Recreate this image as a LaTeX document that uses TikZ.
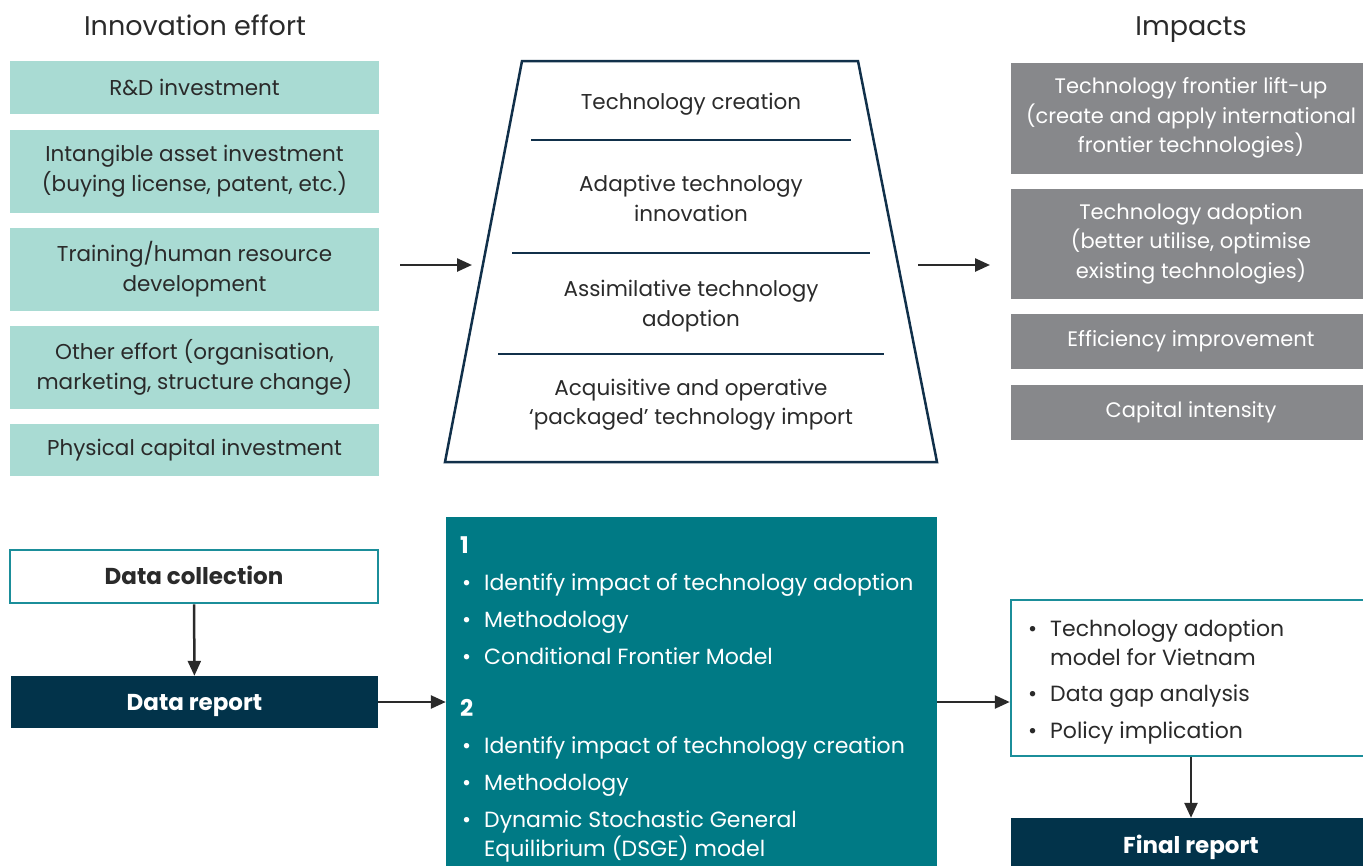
\documentclass[tikz,border=0pt]{standalone}
\usepackage{fontspec}
\setmainfont{Poppins}
\usetikzlibrary{arrows.meta,positioning}

\definecolor{effortgreen}{HTML}{A9DBD3}
\definecolor{impactgrey}{HTML}{87888B}
\definecolor{reportnavy}{HTML}{02334A}
\definecolor{methodteal}{HTML}{007A85}
\definecolor{rimteal}{HTML}{1B8E9A}
\definecolor{inkdark}{HTML}{2A2A2A}
\definecolor{stackline}{HTML}{11304A}

\newcommand\headfont{\fontsize{27}{32}\selectfont}
\newcommand\bodyfont{\fontsize{21.5}{29.5}\selectfont}
\newcommand\impactfont{\fontsize{21}{29.5}\selectfont}
\newcommand\itemfont{\fontsize{22}{29}\selectfont}
\newcommand\boldfont{\fontsize{23}{28}\selectfont\bfseries}
\newcommand\dotitem[1]{\makebox[22pt][l]{\textbullet}#1}

\tikzset{
    heading/.style={anchor=base, inner sep=0, font=\headfont, text=inkdark},
    effort/.style={fill=effortgreen, minimum width=369, inner sep=0, align=center, text=inkdark, font=\bodyfont},
    impact/.style={fill=impactgrey, minimum width=360, inner sep=0, align=center, text=white, font=\impactfont},
    outline/.style={draw=rimteal, line width=2.5, fill=white, inner sep=0},
    report/.style={fill=reportnavy, inner sep=0, text=white, font=\boldfont, text height=16.5, text depth=0},
    item/.style={anchor=base west, inner sep=0, align=left, font=\itemfont},
    wrapitem/.style={anchor=west, inner sep=0, align=left, font=\itemfont},
    flow/.style={draw=inkdark, line width=2.5, -{Triangle[length=15,width=13]}},
}

\begin{document}
\begin{tikzpicture}[x=1pt,y=-1pt]
    \useasboundingbox (0,0) rectangle (1363,865);

    % headings
    \node[heading] (efforthead) at (195,35) {Innovation effort};
    \node[heading] (impacthead) at (1191,35) {Impacts};

    % innovation effort column
    \node[effort, minimum height=53] (rd) at (194.5,87.5) {R\&D investment};
    \node[effort, minimum height=83] (intangible) at (194.5,171) {Intangible asset investment\\(buying license, patent, etc.)};
    \node[effort, minimum height=83] (training) at (194.5,269) {Training/human resource\\development};
    \node[effort, minimum height=83] (othereffort) at (194.5,367.5) {Other effort (organisation,\\marketing, structure change)};
    \node[effort, minimum height=52] (physical) at (194.5,450) {Physical capital investment};

    % technology stack
    \coordinate (stacktl) at (522,61);
    \coordinate (stacktr) at (858,61);
    \coordinate (stackbr) at (937,462);
    \coordinate (stackbl) at (445,462);
    \draw[stackline, line width=2.5, line join=miter] (stacktl) -- (stacktr) -- (stackbr) -- (stackbl) -- cycle;
    \draw[stackline, line width=2.5] (531,140) -- (851,140);
    \draw[stackline, line width=2.5] (512,253) -- (870,253);
    \draw[stackline, line width=2.5] (498,354) -- (884,354);
    \node[font=\bodyfont, text=inkdark, align=center] (creation) at (691,104) {Technology creation};
    \node[font=\bodyfont, text=inkdark, align=center] (adaptive) at (691,198.5) {Adaptive technology\\innovation};
    \node[font=\bodyfont, text=inkdark, align=center] (assimilative) at (691,306) {Assimilative technology\\adoption};
    \node[font=\bodyfont, text=inkdark, align=center] (acquisitive) at (691,404.5) {Acquisitive and operative\\‘packaged’ technology import};

    % impacts column
    \node[impact, minimum height=111] (frontier) at (1191,118) {Technology frontier lift-up\\(create and apply international\\frontier technologies)};
    \node[impact, minimum height=110] (adoption) at (1191,243.5) {Technology adoption\\(better utilise, optimise\\existing technologies)};
    \node[impact, minimum height=55] (efficiency) at (1191,341) {Efficiency improvement};
    \node[impact, minimum height=55] (capital) at (1191,412) {Capital intensity};

    \coordinate (effortout) at (400,265);
    \coordinate (stackin) at (472,265);
    \coordinate (stackout) at (918,265);
    \coordinate (impactin) at (990,265);
    \draw[flow] (effortout) -- (stackin);
    \draw[flow] (stackout) -- (impactin);

    % data and reports
    \node[outline, minimum width=368, minimum height=53, font=\boldfont, text=inkdark, text height=16.5, text depth=0] (collect) at (194,576.5) {Data collection};
    \node[report, minimum width=367, minimum height=52] (datareport) at (194.5,702) {Data report};
    \draw[flow] (collect) -- (datareport);

    \node[fill=methodteal, minimum width=491, minimum height=363, inner sep=0] (method) at (691.5,698.5) {};
    \node[item, text=white, font=\boldfont] (one) at (460,553) {1};
    \node[item, text=white] (m1a) at (462,590) {\dotitem{Identify impact of technology adoption}};
    \node[item, text=white] (m1b) at (462,627) {\dotitem{Methodology}};
    \node[item, text=white] (m1c) at (462,664) {\dotitem{Conditional Frontier Model}};
    \node[item, text=white, font=\boldfont] (two) at (460,716) {2};
    \node[item, text=white] (m2a) at (462,753) {\dotitem{Identify impact of technology creation}};
    \node[item, text=white] (m2b) at (462,790) {\dotitem{Methodology}};
    \node[wrapitem, text=white] (m2c) at (462,836) {\dotitem{Dynamic Stochastic General}\\\hspace*{22pt}Equilibrium (DSGE) model};

    \node[outline, minimum width=360, minimum height=156] (outcome) at (1191,678) {};
    \node[wrapitem, text=inkdark] (o1) at (1028,643) {\dotitem{Technology adoption}\\\hspace*{22pt}model for Vietnam};
    \node[item, text=inkdark] (o2) at (1028,701) {\dotitem{Data gap analysis}};
    \node[item, text=inkdark] (o3) at (1028,738) {\dotitem{Policy implication}};

    \node[report, minimum width=360, minimum height=54] (finalreport) at (1191,845) {Final report};

    \draw[flow] (datareport.east) -- (datareport.east -| method.west);
    \draw[flow] (datareport.east -| method.east) -- (datareport.east -| outcome.west);
    \draw[flow] (outcome) -- (finalreport);
\end{tikzpicture}
\end{document}
